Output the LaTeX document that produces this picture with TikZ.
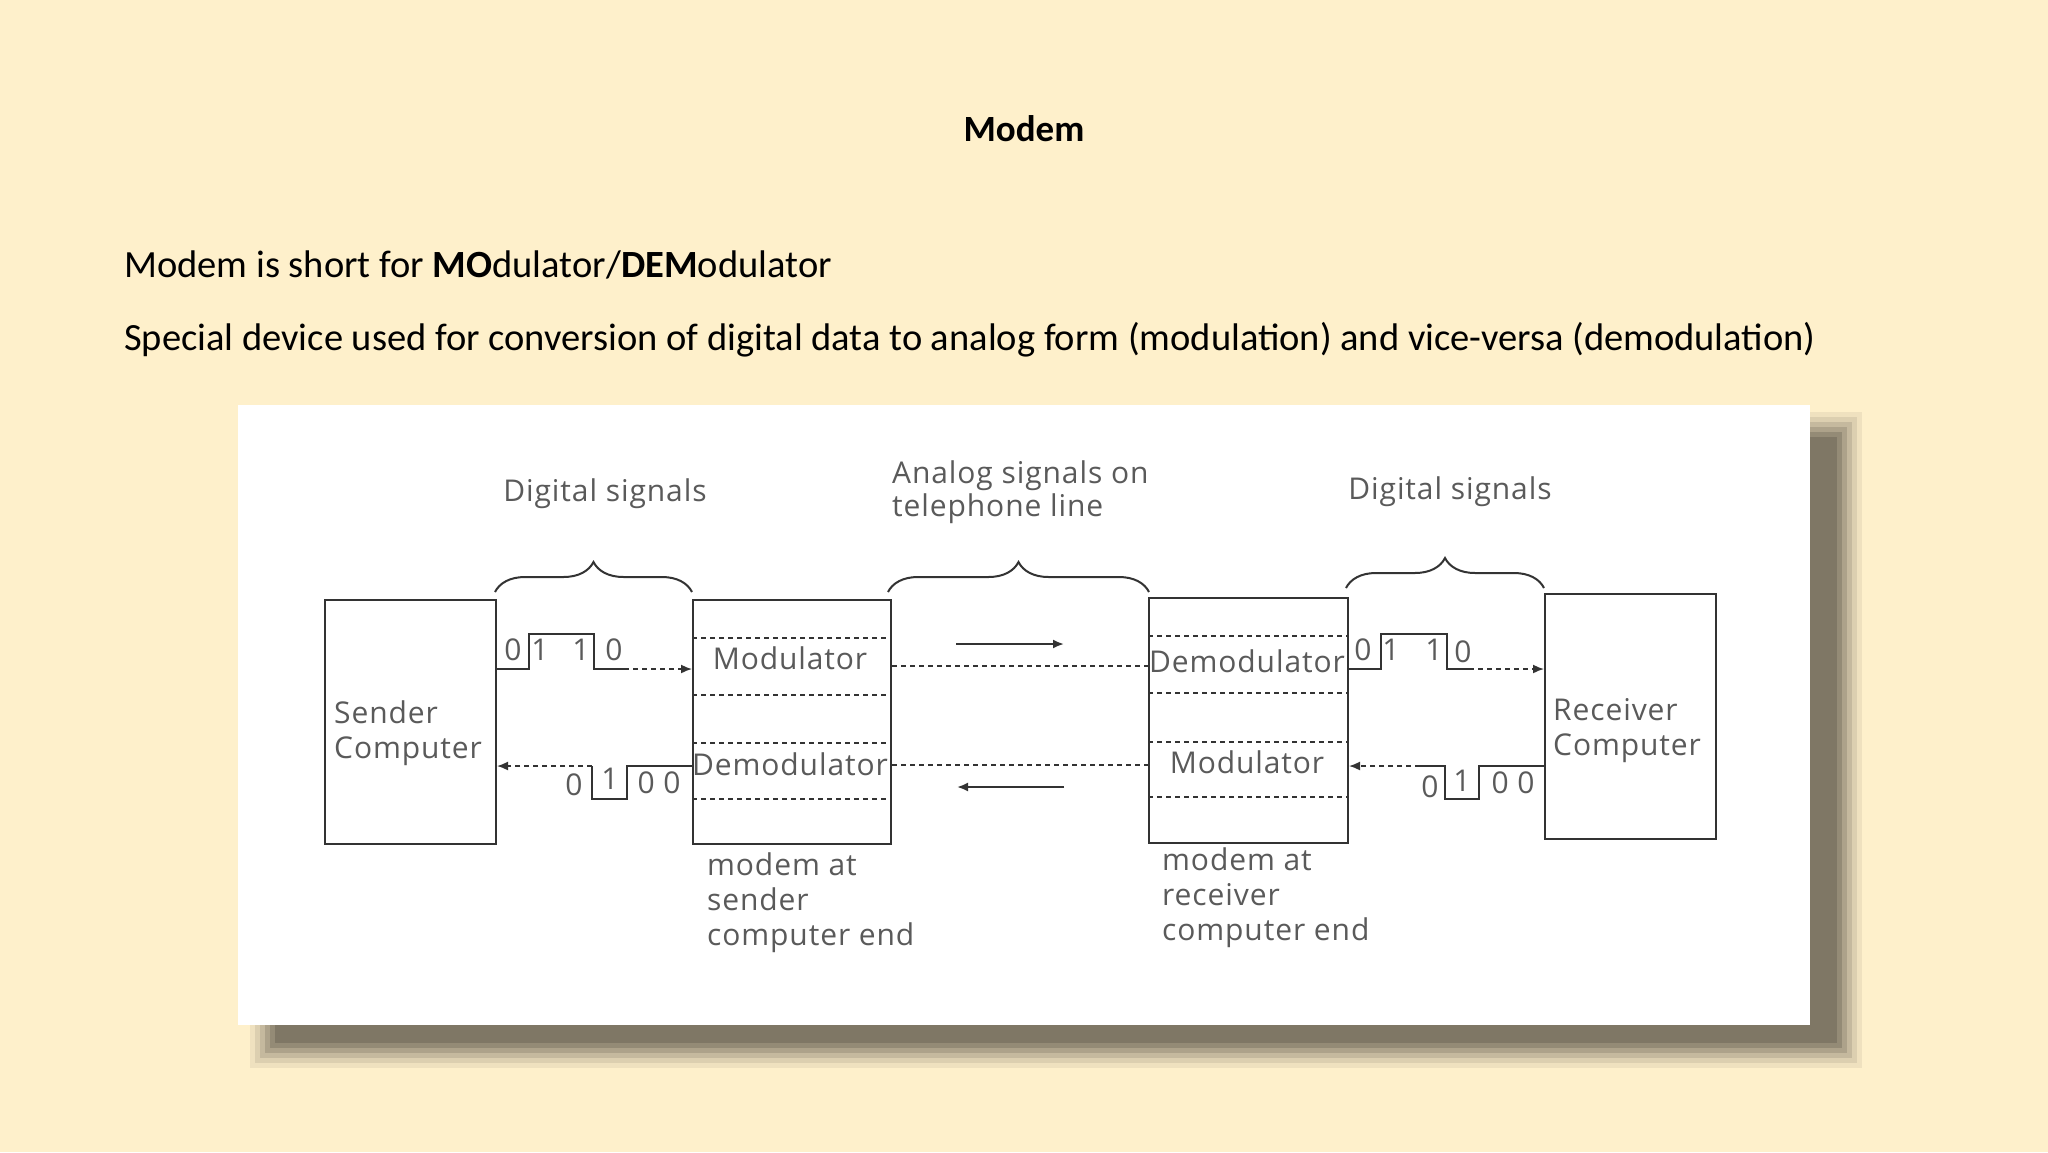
\documentclass[tikz,border=0pt]{standalone}
\usepackage{fontspec}
\setmainfont{Carlito}
\newfontfamily\diafont[LetterSpace=3]{Open Sans}
\usetikzlibrary{arrows.meta,decorations.pathreplacing}
\definecolor{bg}{HTML}{FEF0CB}
\definecolor{ln}{HTML}{333333}
\definecolor{tx}{HTML}{5A5A5A}
\begin{document}
\begin{tikzpicture}[x=1pt,y=-1pt,
  box/.style={draw=ln,line width=2pt,anchor=north west,inner sep=0pt},
  lbl/.style={font=\diafont\fontsize{30}{35}\selectfont,text=tx,inner sep=0pt},
  sig/.style={draw=ln,line width=2pt},
  dsh/.style={draw=ln,line width=1.6pt,dash pattern=on 5pt off 4pt},
  arr/.style={-{Latex[length=11pt,width=9pt]}},
  brc/.style={draw=ln,line width=2pt,decorate,decoration={brace,amplitude=30pt,aspect=0.5}}]
\useasboundingbox (0,0) rectangle (2048,1152);
\fill[bg] (0,0) rectangle (2048,1152);
% title and text
\node[font=\fontsize{37}{44}\selectfont\bfseries] (title) at (1024,129) {Modem};
\node[font=\fontsize{38.5}{44}\selectfont,anchor=west,inner sep=0pt] (l1) at (124,265) {Modem is short for \textbf{MO}dulator/\textbf{DEM}odulator};
\node[font=\fontsize{38.5}{44}\selectfont,anchor=west,inner sep=0pt] (l2) at (124,340) {Special device used for conversion of digital data to analog form (modulation) and vice-versa (demodulation)};
% shadow
\foreach \i/\o in {0/0.06,5/0.08,10/0.1,15/0.12,20/0.14,25/0.14}{
  \fill[black,opacity=\o] (250+\i,412+\i) rectangle (1862-\i,1068-\i);
}
\fill[white] (238,405) rectangle (1810,1025);
% boxes
\node[box,minimum width=171pt,minimum height=244pt] (snd) at (324,599) {};
\node[box,minimum width=198pt,minimum height=244pt] (m1) at (692,599) {};
\node[box,minimum width=199pt,minimum height=245pt] (m2) at (1148,597) {};
\node[box,minimum width=171pt,minimum height=245pt] (rcv) at (1544,593) {};
% inner dashed lines
\foreach \y in {638,695,743,799}{\draw[dsh] (692,\y) -- (890,\y);}
\foreach \y in {636,693,742,797}{\draw[dsh] (1148,\y) -- (1347,\y);}
\node[lbl] (mod1) at (790,658) {Modulator};
\node[lbl] (dem1) at (790,764) {Demodulator};
\node[lbl] (dem2) at (1247,661) {Demodulator};
\node[lbl] (mod2) at (1247,762) {Modulator};
\node[lbl,anchor=west,align=left] (sndt) at (334,733) {Sender\\Computer};
\node[lbl,anchor=west,align=left] (rcvt) at (1553,731) {Receiver\\Computer};
% left upper signal
\coordinate (a1) at (624,669);
\draw[sig] (495,669) -- (529,669) -- (529,634) -- (594,634) -- (594,669) -- (a1);
\draw[dsh,arr] (a1) -- (m1.west |- a1);
\node[lbl] (b1) at (513,650) {0};
\node[lbl] (b2) at (540,650) {1};
\node[lbl] (b3) at (581,650) {1};
\node[lbl] (b4) at (614,650) {0};
% left lower signal
\coordinate (a2) at (592,766);
\draw[sig] (692,766) -- (627,766) -- (627,799) -- (592,799) -- (a2);
\draw[dsh,arr] (a2) -- (snd.east |- a2);
\node[lbl] (c1) at (574,785) {0};
\node[lbl] (c2) at (610,779) {1};
\node[lbl] (c3) at (659,783) {0 0};
% right upper signal
\coordinate (a3) at (1469,669);
\draw[sig] (1347,669) -- (1381,669) -- (1381,634) -- (1447,634) -- (1447,669) -- (a3);
\draw[dsh,arr] (a3) -- (rcv.west |- a3);
\node[lbl] (d1) at (1363,650) {0};
\node[lbl] (d2) at (1391,650) {1};
\node[lbl] (d3) at (1434,650) {1};
\node[lbl] (d4) at (1463,652) {0};
% right lower signal
\coordinate (a4) at (1420,766);
\draw[sig] (1544,766) -- (1479,766) -- (1479,799) -- (1445,799) -- (1445,766) -- (a4);
\draw[dsh,arr] (a4) -- (m2.east |- a4);
\node[lbl] (e1) at (1430,787) {0};
\node[lbl] (e2) at (1462,781) {1};
\node[lbl] (e3) at (1513,783) {0 0};
% telephone line
\draw[dsh] (m1.east |- 0,666) -- (m2.west |- 0,666);
\draw[dsh] (m1.east |- 0,765) -- (m2.west |- 0,765);
\coordinate (u1) at (956,644); \coordinate (u2) at (1064,644);
\coordinate (w1) at (1064,787); \coordinate (w2) at (957,787);
\draw[sig,arr] (u1) -- (u2);
\draw[sig,arr] (w1) -- (w2);
% braces
\draw[brc] (495,592) -- (692,592);
\draw[brc] (888,592) -- (1149,592);
\draw[brc] (1346,588) -- (1544,588);
\node[lbl] (dg1) at (605,494) {Digital signals};
\node[lbl,anchor=west,align=left] (an) at (892,492) {Analog signals on\\[-2pt]telephone line};
\node[lbl] (dg2) at (1450,492) {Digital signals};
\node[lbl,anchor=north west,align=left] (cap1) at (707,852) {modem at\\sender\\computer end};
\node[lbl,anchor=north west,align=left] (cap2) at (1162,847) {modem at\\receiver\\computer end};
\end{tikzpicture}
\end{document}
